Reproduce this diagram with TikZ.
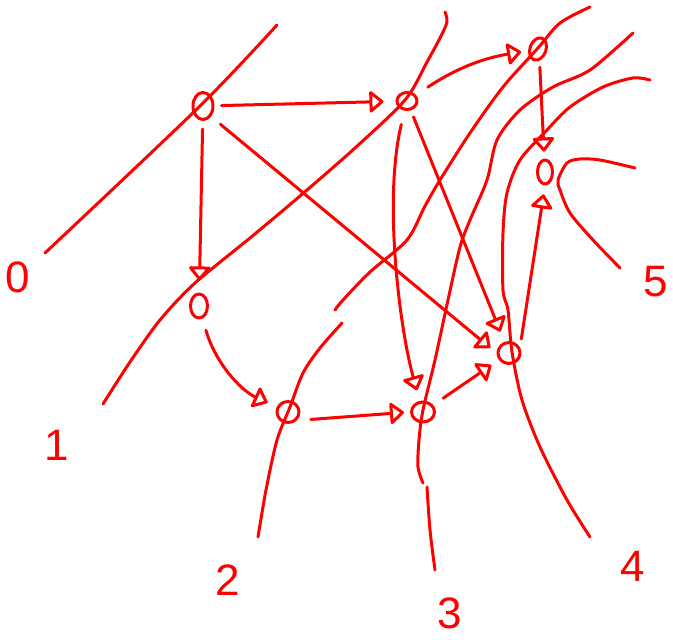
\documentclass[tikz,border=0pt]{standalone}
\usepackage{fontspec}
\setsansfont{Liberation Sans}
\usetikzlibrary{arrows.meta,shapes.geometric}
\begin{document}
\begin{tikzpicture}[x=1pt, y=-1pt, red, line width=3pt, line cap=round, line join=round,
  ev/.style={draw, ellipse, inner sep=0pt, minimum width=18pt, minimum height=24pt},
  sig/.style={-{Triangle[open, round, length=15pt, width=24pt]}, shorten >=#1},
  sig/.default=11pt,
  lbl/.style={font=\sffamily\fontsize{44}{46}\selectfont, inner sep=0pt}]
  \useasboundingbox (0,0) rectangle (673,640);

  % world lines 0..5
  \draw plot[smooth] coordinates {(45,253) (200,106) (277,25)};
  \draw plot[smooth] coordinates {(103,404) (130,362) (160,320) (195,283) (250,238)
        (300,196) (355,148) (405,100) (427,62) (440,38) (447,22) (445,12)};
  \draw plot[smooth] coordinates {(258,537) (266,490) (277,440) (290,407) (303,373)
        (320,348) (342,323)};
  \draw plot[smooth] coordinates {(335,310) (343,300) (370,272) (407,240) (425,206)
        (440,180) (470,133) (503,87) (538,48) (560,23) (590,7)};
  \draw plot[smooth] coordinates {(435,570) (430,530) (427,487)};
  \draw plot[smooth] coordinates {(423,483) (418,467) (419,440) (423,410) (435,360)
        (448,300) (460,247) (470,220) (487,180) (497,140) (520,110) (553,87)
        (590,70) (633,33)};
  \draw plot[smooth] coordinates {(650,80) (633,78) (603,87) (570,107) (547,130)
        (520,160) (507,193) (503,233) (503,290) (508,310) (512,352) (522,400)
        (540,447) (567,500) (590,537)};
  \draw plot[smooth] coordinates {(620,268) (593,240) (570,213) (560,190) (558,180)
        (567,163) (580,159) (600,160) (635,168)};

  % line numbers
  \foreach \n/\x/\y in {0/18/277, 1/57/445, 2/228/580, 3/450/613, 4/633/566, 5/656/282}
    \node[lbl] (w\n) at (\x,\y) {\n};

  % events
  \node[ev, minimum width=20pt, minimum height=27pt] (a) at (203,106) {};
  \node[ev, minimum width=20pt, minimum height=17pt] (b) at (407,101) {};
  \node[ev, minimum width=17pt, minimum height=24pt] (c) at (199,306) {};
  \node[ev, minimum width=22pt, minimum height=21pt] (d) at (288,412) {};
  \node[ev, minimum width=23pt, minimum height=20pt] (f) at (423,412) {};
  \node[ev, minimum width=22pt, minimum height=21pt] (e) at (509,353) {};
  \node[ev, minimum width=16pt, minimum height=23pt, rotate=-20] (g) at (538,49) {};
  \node[ev, minimum width=15pt, minimum height=24pt] (h) at (545,172) {};

  % messages
  \draw[sig=12pt, shorten <=7pt] (a) -- (b);
  \draw[sig=12pt, shorten <=8pt] (a) -- (c);
  \draw[sig=8pt, shorten <=12pt] (a.south east) -- (e.west);
  \draw[sig=10pt, shorten <=12pt] (c) .. controls (215,362) and (240,390) .. (d);
  \draw[sig=6pt, shorten <=14pt] (d.south east) -- (f.west);
  \draw[sig=11pt, shorten <=14pt] (b) .. controls (383,200) and (400,330) .. (f);
  \draw[sig=11pt, shorten <=7pt] (b) -- (e);
  \draw[sig=9pt, shorten <=12pt] (f) -- (e);
  \draw[sig=7pt, shorten <=14pt] (b) to[bend left=12] (g);
  \draw[sig=7pt, shorten <=6pt] ([xshift=6pt]g.south) -- (h);
  \draw[sig=9pt, shorten <=2pt] ([xshift=12pt]e.north) -- (h.south);
\end{tikzpicture}
\end{document}
